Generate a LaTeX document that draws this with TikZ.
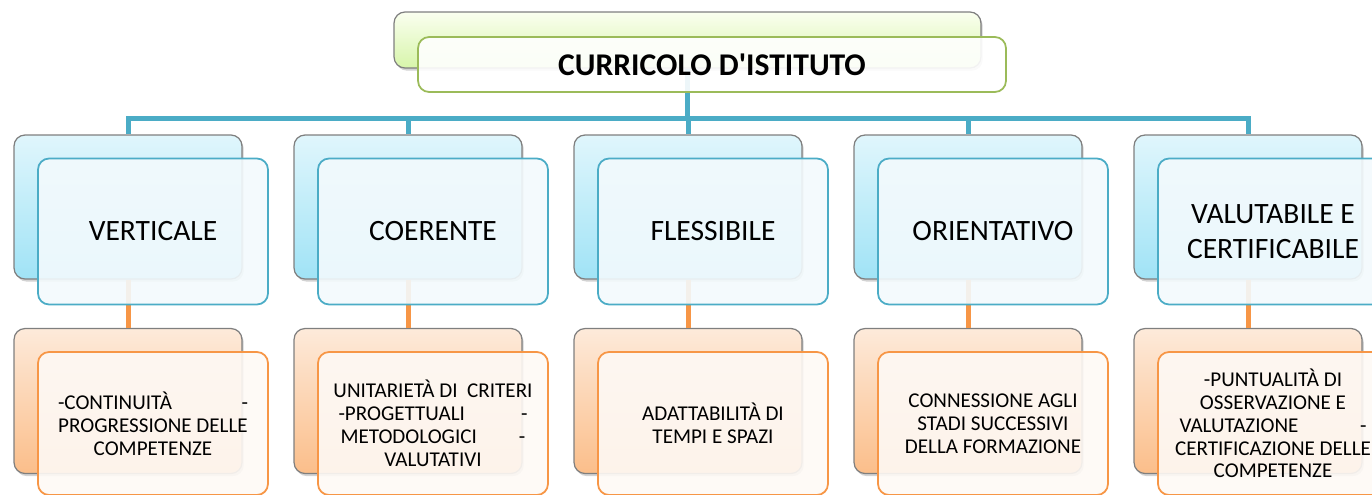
\documentclass[tikz,border=0pt]{standalone}
\usepackage{fontspec}
\setmainfont{Carlito}[Ligatures=TeXOff]
\usetikzlibrary{shadows}

\definecolor{bordbleu}{HTML}{4BACC6}
\definecolor{bordorange}{HTML}{F79646}
\definecolor{bordvert}{HTML}{9BBB59}
\definecolor{bordgris}{HTML}{7F7F7F}

\begin{document}
\begin{tikzpicture}[x=0.02cm,y=-0.02cm]
\tikzset{fond/.style={draw=bordgris, line width=0.7pt, rounded corners=0.22cm,
    drop shadow={shadow xshift=1pt, shadow yshift=-1.5pt, opacity=0.35}},
  fondvert/.style={fond, top color=green!8!lime!6!white, bottom color={rgb,255:red,215;green,245;blue,170},
    minimum width=11.74cm, minimum height=1.12cm},
  fondbleu/.style={fond, top color={rgb,255:red,224;green,246;blue,252}, bottom color={rgb,255:red,160;green,227;blue,246},
    minimum width=4.56cm, minimum height=2.88cm},
  fondorange/.style={fond, top color={rgb,255:red,253;green,234;blue,218}, bottom color={rgb,255:red,251;green,190;blue,138},
    minimum width=4.56cm, minimum height=2.9cm},
  devant/.style={line width=1pt, rounded corners=0.22cm, fill opacity=0.9, text opacity=1, align=center},
  titre/.style={devant, draw=bordvert, fill=white, minimum width=11.76cm, minimum height=1.1cm,
    font=\fontsize{18}{21}\selectfont\bfseries},
  critere/.style={devant, draw=bordbleu, fill={rgb,255:red,243;green,250;blue,253}, minimum width=4.6cm,
    minimum height=2.92cm, font=\fontsize{16.8}{19.5}\selectfont},
  dettaglio/.style={devant, draw=bordorange, fill={rgb,255:red,254;green,249;blue,245}, minimum width=4.6cm,
    minimum height=2.86cm, font=\fontsize{12}{13}\selectfont},
  lienbleu/.style={draw=bordbleu, line width=0.1cm},
  lienorange/.style={draw=bordorange, line width=0.1cm}}
\useasboundingbox (0,0) rectangle (1372,494);
% sommet
\node[fondvert] (T0) at (687.5,40) {};
% criteri
\node[fondbleu] (C1) at (128,207) {};
\node[fondbleu] (C2) at (408,207) {};
\node[fondbleu] (C3) at (688,207) {};
\node[fondbleu] (C4) at (968,207) {};
\node[fondbleu] (C5) at (1248,207) {};
% dettagli
\node[fondorange] (D1) at (128,401) {};
\node[fondorange] (D2) at (408,401) {};
\node[fondorange] (D3) at (688,401) {};
\node[fondorange] (D4) at (968,401) {};
\node[fondorange] (D5) at (1248,401) {};
% collegamenti
\coordinate (bus) at (687.5,118);
\draw[lienbleu] (T0.south) -- (bus);
\draw[lienbleu] (bus) -| (C1.north);
\draw[lienbleu] (bus) -| (C2.north);
\draw[lienbleu] (bus) -| (C3.north);
\draw[lienbleu] (bus) -| (C4.north);
\draw[lienbleu] (bus) -| (C5.north);
\draw[lienorange] (C1.south) -- (D1.north);
\draw[lienorange] (C2.south) -- (D2.north);
\draw[lienorange] (C3.south) -- (D3.north);
\draw[lienorange] (C4.south) -- (D4.north);
\draw[lienorange] (C5.south) -- (D5.north);
% riquadri in primo piano
\node[titre] (T) at (712,64.5) {CURRICOLO D'ISTITUTO};
\node[critere] (V1) at (153,231.5) {VERTICALE};
\node[critere] (V2) at (433,231.5) {COERENTE};
\node[critere] (V3) at (713,231.5) {FLESSIBILE};
\node[critere] (V4) at (993,231.5) {ORIENTATIVO};
\node[critere] (V5) at (1273,231.5) {VALUTABILE E\\CERTIFICABILE};
\node[dettaglio] (E1) at (153,423.5) {\makebox[3.8cm]{-CONTINUITÀ\hfill-}\\PROGRESSIONE DELLE\\COMPETENZE};
\node[dettaglio] (E2) at (433,423.5) {UNITARIETÀ DI~~CRITERI\\\makebox[3.78cm]{-PROGETTUALI\hfill-}\\\makebox[3.7cm]{METODOLOGICI\hfill-}\\VALUTATIVI};
\node[dettaglio] (E3) at (713,423.5) {ADATTABILITÀ DI\\TEMPI E SPAZI};
\node[dettaglio] (E4) at (993,423.5) {CONNESSIONE AGLI\\STADI SUCCESSIVI\\DELLA FORMAZIONE};
\node[dettaglio] (E5) at (1273,423.5) {-PUNTUALITÀ DI\\OSSERVAZIONE E\\\makebox[3.74cm]{VALUTAZIONE\hfill-}\\CERTIFICAZIONE DELLE\\COMPETENZE};
\end{tikzpicture}
\end{document}
